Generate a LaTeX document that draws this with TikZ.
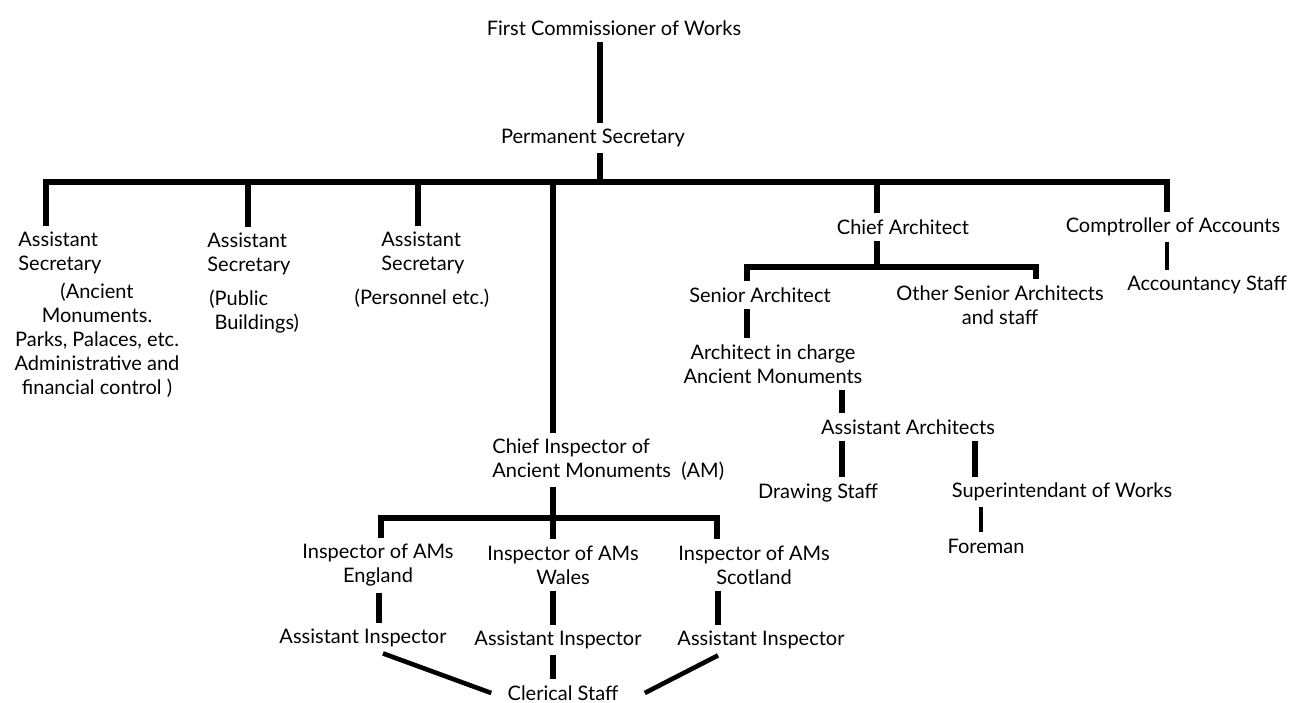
\documentclass[tikz,border=0pt]{standalone}
\usepackage{fontspec}
\setmainfont{Lato}
\usetikzlibrary{calc}

\begin{document}
\begin{tikzpicture}[x=0.5pt,y=-0.5pt,
lbl/.style={inner sep=3pt,font=\fontsize{10}{12}\selectfont,align=center},
lbll/.style={lbl,align=left,anchor=west},
link/.style={line width=3.4pt},
thinlink/.style={line width=2.3pt}
]
\fill[white] (0,0) rectangle (1301,702);
\useasboundingbox (0,0) rectangle (1301,702);
\node[lbl] (fcw) at (614,28) {First Commissioner of Works};
\node[lbl] (perm) at (593,138) {Permanent Secretary};
\node[lbll] (as1) at (12,253) {Assistant\\Secretary};
\node[lbl] (as1n) at (97,340) {(Ancient\\Monuments.\\Parks, Palaces, etc.\\Administrative and\\financial control )};
\node[lbll] (as2) at (201,254) {Assistant\\Secretary};
\node[lbll] (as2n) at (203,312) {(Public\\\ Buildings)};
\node[lbll] (as3) at (375,253) {Assistant\\Secretary};
\node[lbl] (as3n) at (422,298) {(Personnel etc.)};
\node[lbl] (ca) at (903,227) {Chief Architect};
\node[lbl] (cpt) at (1173,227) {Comptroller of Accounts};
\node[lbl] (acc) at (1207,285) {Accountancy Staff};
\node[lbl] (sen) at (760,295) {Senior Architect};
\node[lbl] (oth) at (1000,305) {Other Senior Architects\\and staff};
\node[lbl] (aic) at (773,364) {Architect in charge\\Ancient Monuments};
\node[lbl] (aa) at (908,427) {Assistant Architects};
\node[lbl] (drw) at (818,493) {Drawing Staff};
\node[lbl] (sup) at (1062,492) {Superintendant of Works};
\node[lbl] (fore) at (986,546) {Foreman};
\node[lbll] (cia) at (486,460) {Chief Inspector of\\Ancient Monuments\ \ (AM)};
\node[lbl] (ie) at (378,565) {Inspector of AMs\\England};
\node[lbl] (iw) at (563,565) {Inspector of AMs\\Wales};
\node[lbl] (is) at (754,565) {Inspector of AMs\\Scotland};
\node[lbl] (ai1) at (363,638) {Assistant Inspector};
\node[lbl] (ai2) at (558,640) {Assistant Inspector};
\node[lbl] (ai3) at (761,640) {Assistant Inspector};
\node[lbl] (cler) at (563,693) {Clerical Staff};

\coordinate (top) at (600,182);
\coordinate (barL) at (46,182);
\coordinate (barR) at (1167,182);
\coordinate (d2) at (248,182);
\coordinate (d3) at (418,182);
\coordinate (d4) at (553,182);
\coordinate (d5) at (877,182);
\coordinate (sb) at (877,267);
\coordinate (sbL) at (747,267);
\coordinate (sbR) at (1036,267);
\coordinate (cb) at (553,518);
\coordinate (cbL) at (381,518);
\coordinate (cbR) at (717,518);
\coordinate (xA) at (842,0);
\coordinate (xB) at (975,0);
\coordinate (xC) at (981,0);
\coordinate (xI1) at (379,0);
\coordinate (xI3) at (718,0);

\draw[link] (fcw.south -| top) -- (perm.north -| top);
\draw[link] (perm.south -| top) -- (top);
\draw[link] (as1.north -| barL) -- (barL) -- (barR) -- (cpt.north -| barR);
\draw[link] (d2) -- (as2.north -| d2);
\draw[link] (d3) -- (as3.north -| d3);
\draw[link] (d4) -- (cia.north -| d4);
\draw[link] (d5) -- (ca.north -| d5);
\draw[thinlink] (cpt.south -| barR) -- (acc.north -| barR);
\draw[link] (ca.south -| sb) -- (sb);
\draw[link] (sen.north -| sbL) -- (sbL) -- (sbR) -- (oth.north -| sbR);
\draw[link] (sen.south -| sbL) -- (aic.north -| sbL);
\draw[link] (aic.south -| xA) -- (aa.north -| xA);
\draw[link] (aa.south -| xA) -- (drw.north -| xA);
\draw[link] (aa.south -| xB) -- (sup.north -| xB);
\draw[thinlink] (sup.south -| xC) -- (fore.north -| xC);
\draw[link] (cia.south -| cb) -- (iw.north -| cb);
\draw[link] (ie.north -| cbL) -- (cbL) -- (cbR) -- (is.north -| cbR);
\draw[link] (ie.south -| xI1) -- (ai1.north -| xI1);
\draw[link] (iw.south -| cb) -- (ai2.north -| cb);
\draw[link] (is.south -| xI3) -- (ai3.north -| xI3);
\draw[link] (ai2.south -| cb) -- (cler.north -| cb);
\draw[thinlink] ($(ai1.south)+(20,0)$) -- ($(cler.west)+(-10,0)$);
\draw[thinlink] (ai3.south -| xI3) -- ($(cler.east)+(20,0)$);
\end{tikzpicture}
\end{document}
